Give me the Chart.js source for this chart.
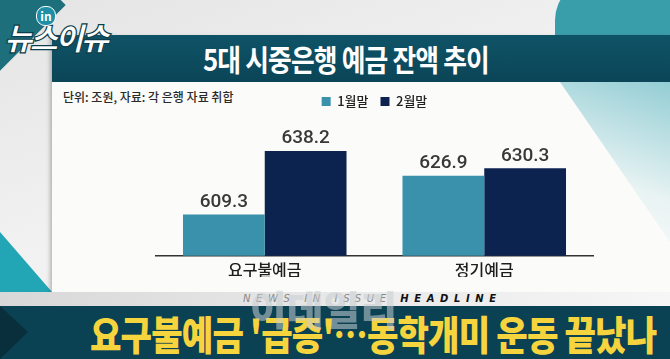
<!DOCTYPE html>
<html>
<head>
<meta charset="utf-8">
<script src="https://cdn.jsdelivr.net/npm/chart.js"></script>
<style>
  html, body { margin: 0; padding: 0; }
  body {
    width: 670px; height: 359px; overflow: hidden; position: relative;
    background: linear-gradient(160deg, #e4e4e4 0%, #f2f2f2 45%, #e9e9e9 100%);
    font-family: "Noto Sans CJK KR", "Noto Sans", sans-serif;
  }
  .abs { position: absolute; }
  #corner { left: -55px; top: -45px; width: 100px; height: 100px; background: #1d6f7c; transform: rotate(45deg); }
  #blob { left: 555px; top: -20px; width: 160px; height: 150px; border-radius: 40px; background: #3a9eaa; }
  #leftTri { left: 0; top: 232px; width: 0; height: 0; border-left: 52px solid #22a6b5; border-top: 60px solid transparent; }
  #panel { left: 52px; top: 35px; width: 618px; height: 257px; background: #fbfbf9; box-shadow: -2px 2px 4px rgba(0,0,0,0.25); }
  #rightShade { left: 560px; top: 82px; width: 110px; height: 160px;
    background: linear-gradient(200deg, rgba(112,190,200,0.75) 0%, rgba(190,225,230,0.3) 60%, rgba(255,255,255,0) 100%);
    clip-path: polygon(0 0, 100% 0, 100% 100%); }
  #titleBar { left: 52px; top: 35px; width: 618px; height: 47px; background: linear-gradient(180deg, #0f5367 0%, #0b4557 100%); }
  #title { left: 203px; top: 36px; color: #fff; font-size: 30px; font-weight: 700; letter-spacing: -1px;
    white-space: nowrap; transform: scaleX(0.86); transform-origin: left top; }
  #unit { left: 63px; top: 88px; color: #2a2a2a; font-size: 12px; font-weight: 500; white-space: nowrap; }
  #chartBox { left: 155px; top: 83px; width: 439px; height: 200px; }
  #strip { left: 0; top: 292px; width: 670px; height: 14px; background: linear-gradient(90deg, #d8d8d8 0%, #e8e8e8 50%, #f6f6f6 100%); }
  #stripText { left: 243px; top: 292px; font-family: "DejaVu Sans", sans-serif; font-size: 10px; font-style: italic;
    letter-spacing: 5.6px; color: #888; white-space: nowrap; line-height: 14px; }
  #stripText b { color: #111; font-weight: 700; }
  #headBar { left: 0; top: 306px; width: 670px; height: 53px; background: #0a4254; }
  #headArrow { left: 0; top: 306px; width: 0; height: 0; border-left: 28px solid #0a2f3c; border-top: 26px solid transparent; border-bottom: 27px solid transparent; }
  #headline { left: 90px; top: 304px; color: #f6d43e; font-size: 40px; font-weight: 900; white-space: nowrap; letter-spacing: -1px;
    transform: scaleX(0.855); transform-origin: left top; }
  #mark { left: 250px; top: 279px; color: rgba(200,205,210,0.55); font-size: 40px; font-weight: 900; white-space: nowrap; }
  #logo { left: 4px; top: 14px; color: #fff; font-size: 31px; font-weight: 900; font-style: italic; letter-spacing: -3px;
    -webkit-text-stroke: 1.2px #0b3d4a; white-space: nowrap; }
  #logoIn { left: 36px; top: 6px; width: 18px; height: 18px; border-radius: 9px; background: #1f8fa6; color: #fff;
    font-size: 12px; font-weight: 700; text-align: center; line-height: 17px; border: 1px solid #fff; }
</style>
</head>
<body>
<div id="corner" class="abs"></div>
<div id="blob" class="abs"></div>
<div id="leftTri" class="abs"></div>
<div id="panel" class="abs"></div>
<div id="rightShade" class="abs"></div>
<div id="titleBar" class="abs"></div>
<div id="title" class="abs">5대 시중은행 예금 잔액 추이</div>
<div id="unit" class="abs">단위: 조원, 자료: 각 은행 자료 취합</div>
<div id="chartBox" class="abs"><canvas id="chart"></canvas></div>
<div id="strip" class="abs"></div>
<div id="stripText" class="abs">NEWS IN ISSUE <b>HEADLINE</b></div>
<div id="headBar" class="abs"></div>
<div id="headArrow" class="abs"></div>
<div id="headline" class="abs">요구불예금 '급증'…동학개미 운동 끝났나</div>
<div id="mark" class="abs">이데일리</div>
<div id="logo" class="abs">뉴스이슈</div>
<div id="logoIn" class="abs">in</div>
<script>
var categories = ["요구불예금", "정기예금"];
var seriesNames = ["1월말", "2월말"];
var jan = [609.3, 626.9];
var feb = [638.2, 630.3];
var colors = ["#3a91ab", "#0c2350"];

var valueLabels = {
  id: "valueLabels",
  afterDatasetsDraw: function(chart) {
    let ctx = chart.ctx;
    ctx.save();
    ctx.font = "500 19px Roboto, 'Noto Sans', sans-serif";
    ctx.fillStyle = "#383838";
    ctx.textAlign = "center";
    ctx.textBaseline = "bottom";
    chart.data.datasets.forEach(function(ds, i) {
      chart.getDatasetMeta(i).data.forEach(function(bar, j) {
        ctx.fillText(ds.data[j].toFixed(1), bar.x, bar.y - 3);
      });
    });
    ctx.restore();
  }
};

function init() {
  let ctx = document.getElementById("chart").getContext("2d");
  new Chart(ctx, {
    type: "bar",
    data: {
      labels: categories,
      datasets: [
        { label: seriesNames[0], data: jan, backgroundColor: colors[0] },
        { label: seriesNames[1], data: feb, backgroundColor: colors[1] }
      ]
    },
    options: {
      responsive: true,
      maintainAspectRatio: false,
      animation: false,
      categoryPercentage: 0.745,
      barPercentage: 1.0,
      layout: { padding: { top: 0, bottom: 6 } },
      scales: {
        x: {
          grid: { display: false },
          border: { color: "#333", width: 1.5 },
          ticks: { color: "#1e1e1e", font: { size: 16, weight: 500, family: "'Noto Sans CJK KR', sans-serif" }, padding: -3 }
        },
        y: { display: false, min: 590.5, max: 653.2 }
      },
      plugins: {
        legend: {
          labels: {
            boxWidth: 9, boxHeight: 9, color: "#222", padding: 12,
            font: { size: 13, weight: 500, family: "'Noto Sans CJK KR', sans-serif" }
          }
        },
        tooltip: { enabled: false }
      }
    },
    plugins: [valueLabels]
  });
}

window.onload = init;
</script>
</body>
</html>
